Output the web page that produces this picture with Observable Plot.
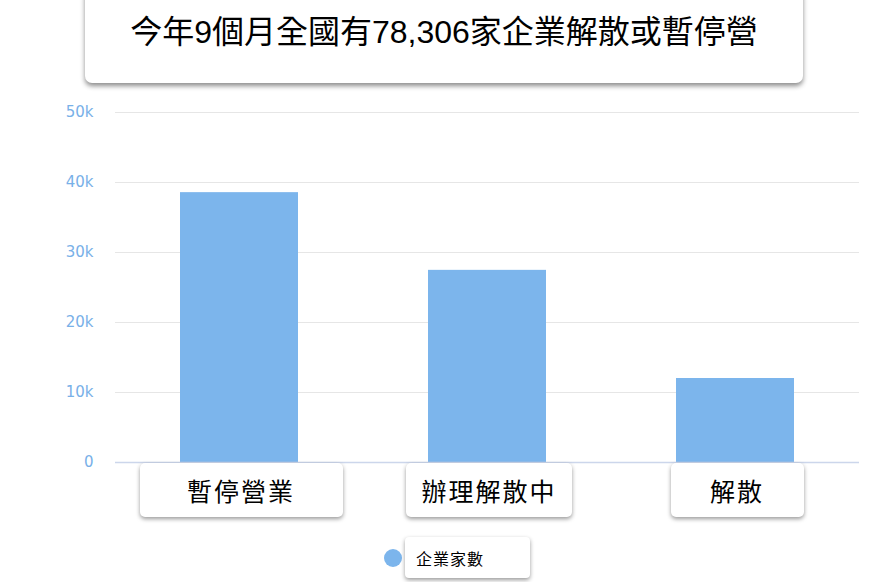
<!DOCTYPE html>
<html>
<head>
<meta charset="utf-8">
<script src="https://cdn.jsdelivr.net/npm/d3@7"></script>
<script src="https://cdn.jsdelivr.net/npm/@observablehq/plot@0.6"></script>
<style>
  html, body { margin: 0; padding: 0; background: #fff; }
  #wrap { position: relative; width: 887px; height: 582px; overflow: hidden; font-family: "Liberation Sans", "Noto Sans CJK TC", sans-serif; }
  #plot { position: absolute; left: 0; top: 0; }
  .title-box {
    position: absolute; left: 85px; top: -12px; width: 718px; height: 95px;
    background: #fff; border-radius: 7px;
    box-shadow: 0 3px 5px rgba(0,0,0,0.45);
    font-size: 32px; color: #000;
    font-family: "Liberation Sans", "Noto Sans CJK TC", sans-serif;
  }
  .title-box span { position: absolute; left: 0; right: 0; top: 22px; text-align: center; line-height: 44px; }
  .cat-box {
    position: absolute; height: 54px; background: #fff; border-radius: 5px;
    box-shadow: 0 2px 4px rgba(0,0,0,0.4);
    display: flex; align-items: center; justify-content: center;
    font-size: 25px; color: #000; letter-spacing: 2px;
    font-family: "Noto Sans CJK TC", sans-serif;
  }
  .legend-dot { position: absolute; width: 18px; height: 18px; border-radius: 50%; }
  .legend-box {
    position: absolute; left: 405px; top: 537px; width: 125px; height: 41px;
    background: #fff; border-radius: 4px; box-shadow: 0 2px 4px rgba(0,0,0,0.4);
    display: flex; align-items: center; padding-left: 11px; box-sizing: border-box;
    font-size: 16px; color: #000; letter-spacing: 1px;
    font-family: "Noto Sans CJK TC", sans-serif;
  }
</style>
</head>
<body>
<div id="wrap">
  <div id="plot"></div>
</div>
<script>
const titleText = "今年9個月全國有78,306家企業解散或暫停營";
const categories = ["暫停營業", "辦理解散中", "解散"];
const values = [38550, 27450, 12000];
const seriesName = "企業家數";
const yTicks = [0, 10000, 20000, 30000, 40000, 50000];
const yTickLabels = ["0", "10k", "20k", "30k", "40k", "50k"];

const barColor = "#7cb5ec";
const data = categories.map((c, i) => ({category: c, value: values[i]}));

const plot = Plot.plot({
  width: 887,
  height: 582,
  marginLeft: 115,
  marginRight: 28,
  marginTop: 112,
  marginBottom: 120,
  style: {fontFamily: "DejaVu Sans, sans-serif", fontSize: "15px", background: "transparent"},
  x: {domain: categories, paddingInner: 0.524, paddingOuter: 0.262, axis: null},
  y: {domain: [0, 50000], axis: null},
  marks: [
    Plot.gridY(yTicks, {stroke: "#e6e6e6", strokeOpacity: 1, strokeWidth: 1}),
    Plot.barY(data, {x: "category", y: "value", fill: barColor}),
    Plot.ruleY([0], {stroke: "#ccd6eb", strokeWidth: 1.5}),
    Plot.axisY(yTicks, {
      tickSize: 0, tickPadding: 22, fill: "#78b0e8", label: null,
      tickFormat: (d) => yTickLabels[yTicks.indexOf(d)],
      fontSize: 15
    })
  ]
});
document.getElementById("plot").appendChild(plot);

const wrap = document.getElementById("wrap");
const xScale = plot.scale("x");
const yScale = plot.scale("y");
const boxWidths = [203, 166, 133];
const zeroY = yScale.apply(0);
categories.forEach((c, i) => {
  const cx = xScale.apply(c) + xScale.bandwidth / 2;
  const box = document.createElement("div");
  box.className = "cat-box";
  box.style.left = (cx - boxWidths[i] / 2 + 2) + "px";
  box.style.width = boxWidths[i] + "px";
  box.style.top = (zeroY + 1) + "px";
  box.textContent = c;
  wrap.appendChild(box);
});

const title = document.createElement("div");
title.className = "title-box";
title.innerHTML = "<span></span>";
title.firstChild.textContent = titleText;
wrap.appendChild(title);

const dot = document.createElement("div");
dot.className = "legend-dot";
dot.style.left = "384px";
dot.style.top = "549px";
dot.style.background = barColor;
wrap.appendChild(dot);

const legend = document.createElement("div");
legend.className = "legend-box";
legend.textContent = seriesName;
wrap.appendChild(legend);
</script>
</body>
</html>
